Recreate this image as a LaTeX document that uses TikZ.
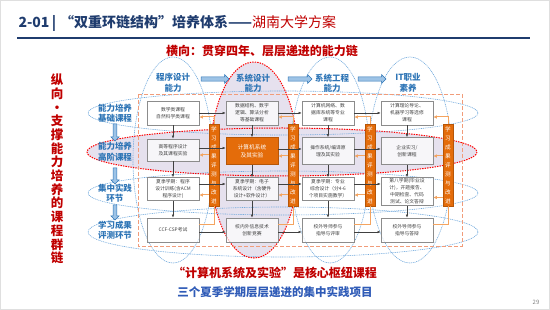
\documentclass[tikz,border=0pt]{standalone}
\usepackage{fontspec}
\setmainfont{Noto Sans CJK SC}
\usetikzlibrary{shapes.arrows, arrows.meta, positioning, calc}
\definecolor{titleblue}{HTML}{1F3C6E}
\definecolor{hdrblue}{HTML}{2E75B6}
\definecolor{lineblue}{HTML}{6FA8DC}
\definecolor{arrowfill}{HTML}{9DC3E6}
\definecolor{deepred}{HTML}{C00000}
\definecolor{barorange}{HTML}{E46C0A}
\definecolor{feedorange}{HTML}{F4A460}
\definecolor{lavender}{HTML}{E6E1EE}
\definecolor{boxgray}{HTML}{8C8C8C}
\definecolor{textgray}{HTML}{404040}
\definecolor{framered}{HTML}{F19C7A}
\definecolor{bottomblue}{HTML}{2F5BB7}
\tikzset{
  coursebox/.style={draw=boxgray, line width=0.7pt, fill=white, fill opacity=0.7,
    text opacity=1, align=center, text=textgray,
    font=\fontsize{4.8}{7}\selectfont, minimum width=52pt, inner sep=1pt},
  hubbox/.style={draw=barorange!80!black, line width=0.7pt, fill=barorange,
    align=center, text=white, font=\fontsize{5.7}{8}\selectfont,
    minimum width=52pt, minimum height=27pt, inner sep=1pt},
  evalbar/.style={draw=barorange!80!black, fill=barorange, line width=0.5pt,
    minimum width=10pt, minimum height=82pt, inner sep=0pt, text=white,
    align=center, font=\fontsize{5.6}{9}\selectfont},
  flowarrow/.style={-{Latex[length=3pt,width=2.6pt]}, draw=textgray, line width=0.5pt},
  backarrow/.style={-{Latex[length=3.5pt,width=3.5pt]}, draw=feedorange, line width=1pt},
  feedline/.style={draw=feedorange, line width=1pt},
  hdrlabel/.style={text=hdrblue, font=\bfseries\fontsize{8.5}{10.5}\selectfont, align=center},
  hdrarrow/.style={single arrow, draw=hdrblue, fill=arrowfill, line width=0.5pt,
    minimum height=28pt, minimum width=9pt, single arrow head extend=1.5pt, inner sep=1pt},
  downarrow/.style={hdrarrow, shape border rotate=270, minimum width=8pt},
  ringblue/.style={draw=lineblue, dash pattern=on 1pt off 0.8pt, line width=0.6pt},
  ringred/.style={draw=red, dash pattern=on 1.4pt off 1.1pt, line width=1pt},
}
\begin{document}
\begin{tikzpicture}[x=1pt, y=-1pt]
  \useasboundingbox (0,0) rectangle (550,310);
  \draw[gray!25, line width=1pt] (0.5,0.5) rectangle (549.5,309.5);

  % Title
  \node[anchor=west, text=titleblue, font=\bfseries\fontsize{14}{16}\selectfont] (title) at (15,23)
    {2-01\,|\;“双重环链结构”培养体系——{\mdseries\color{deepred}湖南大学方案}};
  \draw[titleblue, line width=1.4pt] (17,38) -- (530,38);
  \node[text=deepred, font=\bfseries\fontsize{12}{14}\selectfont] (subtitle) at (262,51)
    {横向：贯穿四年、层层递进的能力链};

  % === Rings ===
  \fill[lavender] (282,152) ellipse [x radius=195, y radius=24];
  \fill[lavender] (254,160) ellipse [x radius=44, y radius=98];
  \draw[ringblue] (283,113) ellipse [x radius=195, y radius=22];
  \draw[ringblue] (283,193) ellipse [x radius=195, y radius=22];
  \draw[ringblue] (283,232) ellipse [x radius=195, y radius=25];
  \draw[ringblue] (173,160) ellipse [x radius=40, y radius=103];
  \draw[ringblue] (330,160) ellipse [x radius=40, y radius=103];
  \draw[ringblue] (410,160) ellipse [x radius=42, y radius=103];
  \draw[ringred] (282,152) ellipse [x radius=195, y radius=24];
  \draw[ringred] (254,160) ellipse [x radius=44, y radius=98];
  \draw[framered, dash pattern=on 4pt off 2pt, line width=0.8pt] (138,94) rectangle (462,246);

  % === Left side ===
  \node[text=deepred, font=\bfseries\fontsize{12.5}{13.7}\selectfont, align=center] (vtitle) at (57,169)
    {纵\\向\\·\\支\\撑\\能\\力\\培\\养\\的\\课\\程\\群\\链};

  \node[hdrlabel] (lbl1) at (115,113) {能力培养\\基础课程};
  \node[hdrlabel] (lbl2) at (115,152) {能力培养\\高阶课程};
  \node[hdrlabel] (lbl3) at (115,193) {集中实践\\环节};
  \node[hdrlabel] (lbl4) at (115,230) {学习成果\\评测环节};
  \node[downarrow, minimum height=17pt] (d12) at (115,131.5) {};
  \node[downarrow, minimum height=16pt] (d23) at (115,175) {};
  \node[downarrow, minimum height=15pt] (d34) at (115,211.5) {};

  % === Column headers ===
  \node[hdrlabel] (hdr1) at (173,83) {程序设计\\能力};
  \node[hdrlabel] (hdr2) at (253,83) {系统设计\\能力};
  \node[hdrlabel] (hdr3) at (332,83) {系统工程\\能力};
  \node[hdrlabel] (hdr4) at (408,83) {IT职业\\素养};
  \node[hdrarrow] (h12) at (214,79) {};
  \node[hdrarrow, minimum height=24pt] (h23) at (299,79) {};
  \node[hdrarrow] (h34) at (371,79) {};

  % === Row 1 ===
  \node[coursebox, minimum height=24pt] (r1c1) at (173,113) {数学类课程\\自然科学类课程};
  \node[coursebox, minimum height=24pt] (r1c2) at (252,113) {数据结构、数字\\逻辑、算法分析\\等基础课程};
  \node[coursebox, minimum height=24pt] (r1c3) at (328,113) {计算机网络、数\\据库系统等专业\\课程};
  \node[coursebox, minimum height=24pt] (r1c4) at (407,113) {计算理论导论、\\机器学习等选修\\课程};
  % === Row 2 ===
  \node[coursebox, minimum height=22pt] (r2c1) at (173,150) {高等程序设计\\及其课程实验};
  \node[hubbox] (r2c2) at (252,151) {计算机系统\\及其实验};
  \node[coursebox, minimum height=27pt] (r2c3) at (328,151) {操作系统/编译原\\理及其实验};
  \node[coursebox, minimum height=27pt] (r2c4) at (407,151) {企业实习/\\创新课程};
  % === Row 3 ===
  \node[coursebox, minimum height=23pt] (r3c1) at (173,189) {夏季学期：程序\\设计训练(含ACM\\程序设计)};
  \node[coursebox, minimum height=23pt] (r3c2) at (252,189) {夏季学期：电子\\系统设计（含硬件\\设计+软件设计）};
  \node[coursebox, minimum height=23pt] (r3c3) at (328,189) {夏季学期：专业\\综合设计（分4-6\\个项目实施教学）};
  \node[coursebox, minimum height=28pt] (r3c4) at (407,191.5) {第八学期(毕业设\\计)，开题报告、\\中期检查、代码\\测试、论文答辩};
  % === Row 4 ===
  \node[coursebox, minimum height=24pt] (r4c1) at (173,230) {CCF-CSP考试};
  \node[coursebox, minimum height=24pt] (r4c2) at (252,230) {校内外信息技术\\创新竞赛};
  \node[coursebox, minimum height=24pt] (r4c3) at (328,230) {校外导师参与\\指导与评审};
  \node[coursebox, minimum height=24pt] (r4c4) at (407,230) {校外导师参与\\指导与答辩};

  % === Vertical flow ===
  \foreach \c in {c1,c2,c3,c4}{
    \draw[flowarrow] (r1\c.south) -- (r2\c.north);
    \draw[flowarrow] (r2\c.south) -- (r3\c.north);
    \draw[flowarrow] (r3\c.south) -- (r4\c.north -| r3\c.south);
  }

  % === Evaluation bars ===
  \node[evalbar] (bar1) at (214,165) {学\\习\\成\\果\\评\\测\\与\\改\\进};
  \node[evalbar] (bar2) at (293,165) {学\\习\\成\\果\\评\\测\\与\\改\\进};
  \node[evalbar] (bar3) at (370,165) {学\\习\\成\\果\\评\\测\\与\\改\\进};
  \node[evalbar] (bar4) at (448,165) {学\\习\\成\\果\\评\\测\\与\\改\\进};

  % === Horizontal flow ===
  \foreach \a/\b in {c1/c2,c2/c3,c3/c4}{
    \draw[flowarrow] (r1\a.east) -- (r1\a.east -| r1\b.west);
    \draw[flowarrow] ([yshift=2pt]r2\a.east) -- ([yshift=2pt]r2\a.east -| r2\b.west);
    \draw[flowarrow] ([yshift=5pt]r3\a.east) -- ([yshift=5pt]r3\a.east -| r3\b.west);
    \draw[flowarrow] ([yshift=-2pt]r4\a.east) -- ([yshift=-2pt]r4\a.east -| r4\b.west);
  }

  % === Feedback from bars ===
  \foreach \c/\n in {c1/1,c2/2,c3/3,c4/4}{
    \draw[backarrow] (bar\n.north) |- ([yshift=-4pt]r1\c.east);
    \draw[backarrow] ([yshift=-5pt]r2\c.east -| bar\n.west) -- ([yshift=-5pt]r2\c.east);
    \draw[backarrow] ([yshift=-6pt]r3\c.east -| bar\n.west) -- ([yshift=-6pt]r3\c.east);
    \draw[feedline] ([yshift=5pt]r4\c.east) -| (bar\n.south);
  }

  % === Bottom notes ===
  \node[text=deepred, font=\bfseries\fontsize{12}{14}\selectfont] (note1) at (275,273)
    {“计算机系统及实验”是核心枢纽课程};
  \node[text=bottomblue, font=\bfseries\fontsize{11.5}{14}\selectfont] (note2) at (275,292)
    {三个夏季学期层层递进的集中实践项目};
  \node[text=gray, font=\fontsize{6}{7}\selectfont] (pageno) at (536,302) {29};
\end{tikzpicture}
\end{document}
